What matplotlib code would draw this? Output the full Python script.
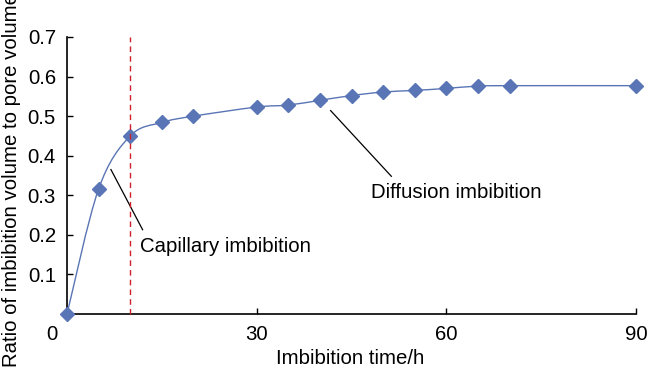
# -*- coding: utf-8 -*-

#%% Import required libraries
import matplotlib
matplotlib.use('Agg')
import matplotlib.pyplot as plt
from matplotlib.path import Path
from matplotlib.patches import PathPatch
import numpy as np

#%% Data
time_h = [0, 5, 10, 15, 20, 30, 35, 40, 45, 50, 55, 60, 65, 70, 90]
ratio = [0.0, 0.316, 0.450, 0.484, 0.500, 0.523, 0.528, 0.540,
         0.552, 0.561, 0.565, 0.570, 0.576, 0.577, 0.577]
x_ticks = [30, 60, 90]
y_ticks = [0.1, 0.2, 0.3, 0.4, 0.5, 0.6, 0.7]
boundary_time = 10
x_label = 'Imbibition time/h'
y_label = 'Ratio of imbibition volume to pore volume'

plt.rcParams['font.family'] = ['Liberation Sans', 'DejaVu Sans']
FS = 14.7
BLUE = '#5a75b5'
RED = '#d0202c'

#%% Smoothed line (Excel-like Catmull-Rom bezier through the points)
def smooth_path(x, y):
    pts = np.column_stack([x, y]).astype(float)
    n = len(pts)
    verts = [pts[0]]
    codes = [Path.MOVETO]
    for i in range(n - 1):
        p0 = pts[max(i - 1, 0)]
        p1 = pts[i]
        p2 = pts[i + 1]
        p3 = pts[min(i + 2, n - 1)]
        c1 = p1 + (p2 - p0) / 6.0
        c2 = p2 - (p3 - p1) / 6.0
        verts += [c1, c2, p2]
        codes += [Path.CURVE4] * 3
    return Path(verts, codes)

fig = plt.figure(figsize=(6.5, 3.74), dpi=100)
ax = fig.add_axes([67/650, 1 - 314/374, (636 - 67)/650, (314 - 37)/374])

ax.add_patch(PathPatch(smooth_path(time_h, ratio), fill=False, edgecolor=BLUE,
                       lw=1.0, zorder=2))
ax.plot(time_h, ratio, linestyle='none', marker='D', markersize=7.6,
        color=BLUE, clip_on=False, zorder=3)

ax.plot([boundary_time, boundary_time], [0, 0.7], color=RED, lw=1.0,
        dashes=(4, 3), zorder=4, clip_on=False)

ax.set_xlim(0, 90)
ax.set_ylim(0, 0.7)
ax.set_xticks(x_ticks)
ax.set_xticklabels([str(t) for t in x_ticks])
ax.set_yticks(y_ticks)
ax.set_yticklabels(['%.1f' % v for v in y_ticks])
ax.tick_params(direction='in', length=4, width=1.0, labelsize=FS, pad=8.0,
               colors='black')
for side in ['top', 'right']:
    ax.spines[side].set_visible(False)
for side in ['left', 'bottom']:
    ax.spines[side].set_linewidth(1.2)

# origin label sits left of the axis
ax.annotate('0', xy=(0, 0), xycoords='axes fraction', xytext=(-15, -11),
            textcoords='offset pixels', ha='center', va='top', fontsize=FS)

# annotations
ax.plot([6.95, 11.96], [0.365, 0.213], color='black', lw=0.9)
ax.text(11.5, 0.170, 'Capillary imbibition', fontsize=FS, ha='left',
        va='center')
ax.plot([41.7, 51.3], [0.514, 0.348], color='black', lw=0.9)
ax.text(48.1, 0.306, 'Diffusion imbibition', fontsize=FS, ha='left',
        va='center')

fig.text(350/650, 1 - 358/374, x_label, fontsize=FS, ha='center', va='center')
fig.text(12/650, 1 - 367/374, y_label, fontsize=FS, rotation=90,
         ha='center', va='bottom')

fig.savefig('out.png', dpi=100)
